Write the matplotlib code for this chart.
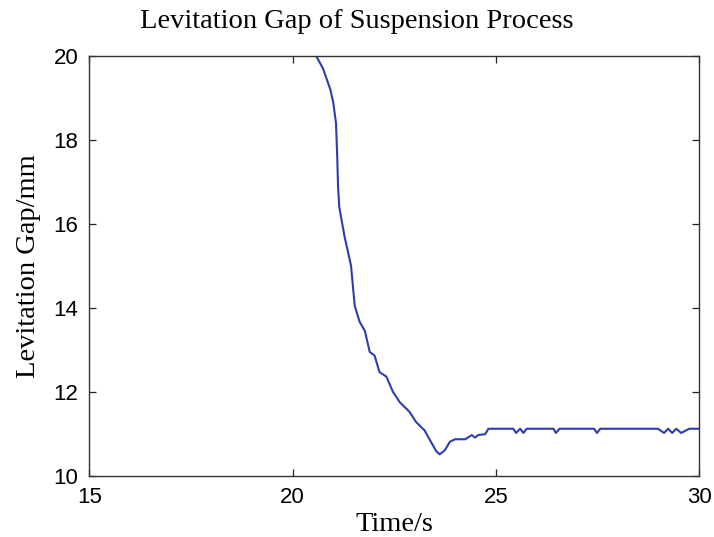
import numpy as np
import matplotlib
matplotlib.use("Agg")
import matplotlib.pyplot as plt

# values
time_s = [15.0, 20.58, 20.75, 20.93, 21.0, 21.07, 21.1, 21.12, 21.15, 21.28,
          21.44, 21.53, 21.65, 21.78, 21.9, 22.02, 22.14, 22.31, 22.47, 22.64,
          22.88, 23.04, 23.25, 23.41, 23.54, 23.62, 23.75, 23.87, 24.0, 24.25,
          24.41, 24.49, 24.57, 24.74, 24.82, 25.43, 25.5, 25.6, 25.68, 25.76,
          26.42, 26.48, 26.57, 27.42, 27.49, 27.57, 28.99, 29.14, 29.24, 29.34,
          29.44, 29.56, 29.76, 30.0]
gap_mm = [20.0, 20.0, 19.7, 19.2, 18.9, 18.4, 17.6, 16.9, 16.4, 15.7,
          15.0, 14.05, 13.67, 13.45, 12.95, 12.86, 12.47, 12.36, 12.0, 11.75,
          11.52, 11.28, 11.08, 10.8, 10.58, 10.51, 10.61, 10.81, 10.87, 10.87,
          10.97, 10.91, 10.97, 10.99, 11.12, 11.12, 11.02, 11.12, 11.02, 11.12,
          11.12, 11.02, 11.12, 11.12, 11.02, 11.12, 11.12, 11.02, 11.12, 11.02,
          11.12, 11.02, 11.12, 11.12]

x_ticks = [15, 20, 25, 30]
y_ticks = [10, 12, 14, 16, 18, 20]

serif = ["Liberation Serif", "DejaVu Serif"]
sans = ["Liberation Sans", "DejaVu Sans"]

fig = plt.figure(figsize=(7.14, 5.37), dpi=100)
ax = fig.add_axes([0.125, 0.114, 0.854, 0.782])

ax.plot(time_s, gap_mm, color="#2b3daf", linewidth=1.5)

ax.set_xlim(15, 30)
ax.set_ylim(10, 20)
ax.set_xticks(x_ticks)
ax.set_yticks(y_ticks)
ax.tick_params(direction="in", length=5, width=0.9, top=True, right=True,
               labelsize=16, colors="#222222", pad=8)
for lab in ax.get_xticklabels() + ax.get_yticklabels():
    lab.set_family(sans)
    lab.set_color("black")
for s in ax.spines.values():
    s.set_linewidth(1.0)
    s.set_color("#333333")

ax.set_xlabel("Time/s", family=serif, fontsize=20.5, labelpad=3)
ax.set_ylabel("Levitation Gap/mm", family=serif, fontsize=20.5, labelpad=9)
fig.suptitle("Levitation Gap of Suspension Process", family=serif,
             fontsize=20.5, x=0.5, y=0.983)

fig.savefig("out.png", dpi=100)
